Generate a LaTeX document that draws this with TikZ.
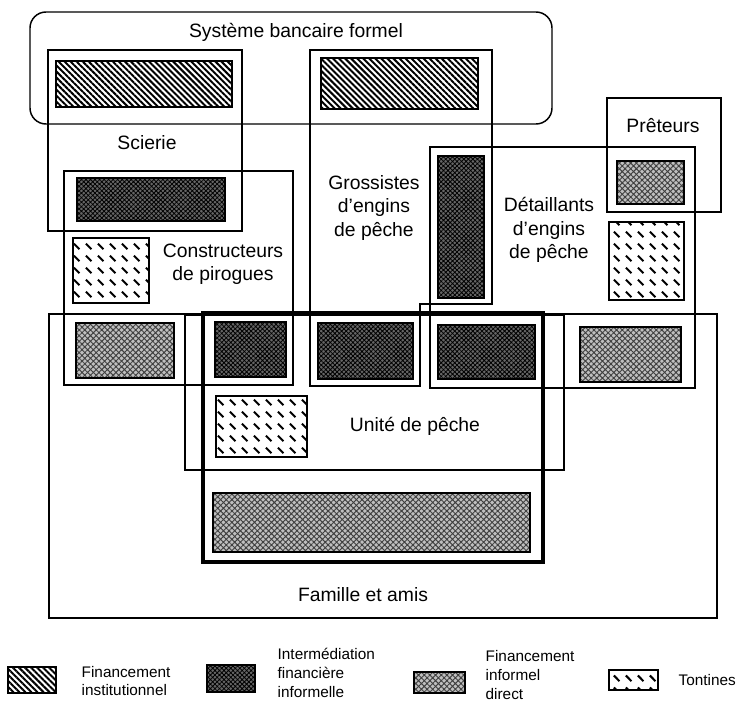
\documentclass[tikz,border=0pt]{standalone}
\usepackage{fontspec}
\setmainfont{Liberation Sans}
\usetikzlibrary{patterns,patterns.meta}

\tikzdeclarepattern{
  name=tontinedash,
  type=uncolored,
  bounding box={(0pt,0pt) and (9pt,9pt)},
  tile size={(9pt,9pt)},
  code={\draw[line width=1.6pt,line cap=butt] (1.5pt,7.5pt) -- (6pt,3pt);}
}

\begin{document}
\begin{tikzpicture}[x=0.75pt,y=-0.75pt]
\begin{scope}[outline/.style={draw,line width=1.1pt},
              unitframe/.style={draw,line width=2.6pt},
              instit/.style={draw,line width=1.4pt,pattern={Lines[angle=-45,distance=3.2pt,line width=1.5pt]}},
              intermed/.style={draw,line width=1.4pt,preaction={fill=black!60},pattern={Hatch[angle=45,distance=2.4pt,line width=0.6pt]}},
              direct/.style={draw,line width=1.4pt,preaction={fill=black!25},pattern={Hatch[angle=45,distance=3pt,line width=0.7pt]},pattern color=black!75},
              tontine/.style={draw,line width=1.4pt,pattern=tontinedash},
              boxtext/.style={font=\fontsize{14.5}{17.4}\selectfont,align=center},
              legtext/.style={font=\fontsize{11.5}{14}\selectfont,align=left,anchor=west}]
    \useasboundingbox (0,0) rectangle (744,709);
    % enclosing boxes
    \draw [outline,rounded corners=12pt] (30,12) rectangle (552,124);
    \draw [outline] (48,50) rectangle (242,231);
    \draw [outline] (64,171) rectangle (293,385);
    \draw [outline] (310,50) -- (492,50) -- (492,304) -- (420,304) -- (420,386) -- (310,386) -- cycle;
    \draw [outline] (430,147) rectangle (695,388);
    \draw [outline] (607,98) rectangle (721,212);
    \draw [outline] (49,314) rectangle (717,618);
    \draw [outline] (185,315) rectangle (564,470);
    \draw [unitframe] (203,313) rectangle (543,562);
    % financing boxes
    \draw [instit] (56,61) rectangle (232,107);
    \draw [instit] (321,58) rectangle (478,109);
    \draw [intermed] (77,178) rectangle (225,221);
    \draw [tontine] (73,238) rectangle (149,303);
    \draw [intermed] (438,156) rectangle (484,298);
    \draw [direct] (617,161) rectangle (684,204);
    \draw [tontine] (609,222) rectangle (684,300);
    \draw [direct] (76,323) rectangle (174,378);
    \draw [intermed] (215,322) rectangle (286,377);
    \draw [intermed] (318,323) rectangle (413,379);
    \draw [intermed] (438,325) rectangle (535,379);
    \draw [direct] (580,327) rectangle (681,382);
    \draw [tontine] (216,396) rectangle (307,457);
    \draw [direct] (213,493) rectangle (530,552);
    % labels
    \node [boxtext] (sys) at (296,32) {Système bancaire formel};
    \node [boxtext] (sci) at (147,143) {Scierie};
    \node [boxtext] (cons) at (223,264) {Constructeurs \\ de pirogues};
    \node [boxtext] (gros) at (374,208) {Grossistes \\ d'engins \\ de pêche};
    \node [boxtext] (det) at (549,230) {Détaillants \\ d'engins \\ de pêche};
    \node [boxtext] (pret) at (663,126) {Prêteurs};
    \node [boxtext] (unit) at (415,426) {Unité de pêche};
    \node [boxtext] (fam) at (363,595) {Famille et amis};
    % legend
    \draw [instit] (8,667) rectangle (56,693);
    \draw [intermed] (207,665) rectangle (255,692);
    \draw [direct] (414,672) rectangle (465,693);
    \draw [tontine] (609,670) rectangle (658,690);
    \node [legtext] (l1) at (77,681) {Financement \\ institutionnel};
    \node [legtext] (l2) at (273,673) {Intermédiation \\ financière \\ informelle};
    \node [legtext] (l3) at (481,675) {Financement \\ informel \\ direct};
    \node [legtext] (l4) at (674,680) {Tontines};
\end{scope}
\end{tikzpicture}
\end{document}
